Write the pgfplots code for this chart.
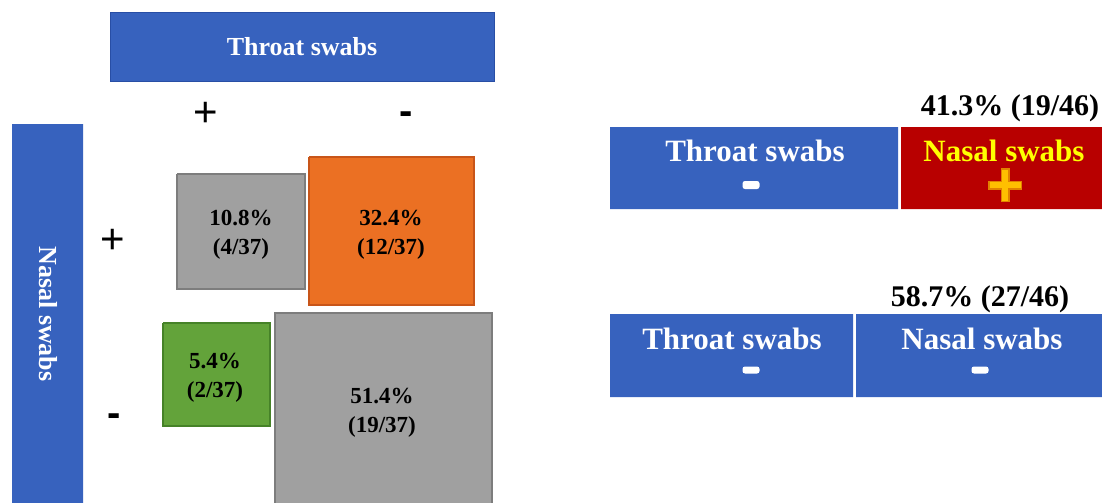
\documentclass[border=0pt]{standalone}
\usepackage{pgfplots}
\pgfplotsset{compat=1.18}
\usepackage{fontspec}
\setmainfont{Liberation Serif}
\newfontfamily\arial{Liberation Sans}
\definecolor{bl}{RGB}{55,98,190}
\definecolor{bldark}{RGB}{40,78,165}
\definecolor{gr}{RGB}{160,160,160}
\definecolor{grdark}{RGB}{125,125,125}
\definecolor{org}{RGB}{235,112,35}
\definecolor{orgdark}{RGB}{200,85,25}
\definecolor{grn}{RGB}{99,163,58}
\definecolor{grndark}{RGB}{70,130,40}
\definecolor{rd}{RGB}{184,0,0}
\definecolor{yl}{RGB}{255,255,0}
\definecolor{plusfill}{RGB}{255,192,0}
\definecolor{plusedge}{RGB}{225,130,0}
\begin{document}
\begin{tikzpicture}
\begin{axis}[
  scale only axis, width=1102bp, height=503bp,
  xmin=0, xmax=1102, ymin=0, ymax=503, y dir=reverse,
  hide axis, clip=true,
]
% header and side labels
\addplot[mark=none, fill=bl, draw=bldark, line width=1bp] coordinates {(110,13) (494,13) (494,82) (110,82) (110,13)};
\addplot[mark=none, fill=bl, draw=none] coordinates {(12,124) (83,124) (83,503) (12,503) (12,124)};
% cells
\addplot[mark=none, fill=gr, draw=grdark, line width=1.5bp] coordinates {(177,174) (305,174) (305,289) (177,289) (177,174)};
\addplot[mark=none, fill=org, draw=orgdark, line width=1.5bp] coordinates {(309,157) (474,157) (474,305) (309,305) (309,157)};
\addplot[mark=none, fill=grn, draw=grndark, line width=1.5bp] coordinates {(163,323) (270,323) (270,426) (163,426) (163,323)};
\addplot[mark=none, fill=gr, draw=none] coordinates {(275,313) (492,313) (492,503) (275,503) (275,313)};
\addplot[mark=none, draw=grdark, line width=1.5bp] coordinates {(275,503) (275,313) (492,313) (492,503)};
% right bars
\addplot[mark=none, fill=bl, draw=none] coordinates {(610,127) (898,127) (898,209) (610,209) (610,127)};
\addplot[mark=none, fill=rd, draw=none] coordinates {(901,127) (1102,127) (1102,209) (901,209) (901,127)};
\addplot[mark=none, fill=bl, draw=none] coordinates {(610,314) (853,314) (853,397) (610,397) (610,314)};
\addplot[mark=none, fill=bl, draw=none] coordinates {(856,314) (1102,314) (1102,397) (856,397) (856,314)};
% yellow plus
\addplot[mark=none, draw=plusedge, line width=9bp] coordinates {(988,185) (1022,185)};
\addplot[mark=none, draw=plusedge, line width=9bp] coordinates {(1005,168) (1005,202)};
\addplot[mark=none, draw=plusfill, line width=5.5bp] coordinates {(989.5,185) (1020.5,185)};
\addplot[mark=none, draw=plusfill, line width=5.5bp] coordinates {(1005,169.5) (1005,200.5)};
% texts
\node[text=white, font=\fontsize{26bp}{30bp}\selectfont\bfseries] at (axis cs:302,47) {Throat swabs};
\node[text=white, font=\fontsize{26bp}{30bp}\selectfont\bfseries, rotate=-90] at (axis cs:48,314) {Nasal swabs};
\node[font=\fontsize{42bp}{44bp}\selectfont\arial] at (axis cs:206,114) {+};
\node[font=\fontsize{40bp}{40bp}\selectfont\arial\bfseries] at (axis cs:406,118) {-};
\node[font=\fontsize{42bp}{44bp}\selectfont\arial] at (axis cs:113,241) {+};
\node[font=\fontsize{40bp}{40bp}\selectfont\arial\bfseries] at (axis cs:114,420) {-};
\node[align=center, font=\fontsize{23bp}{29bp}\selectfont\bfseries] at (axis cs:241,235) {10.8\%\\(4/37)};
\node[align=center, font=\fontsize{23bp}{29bp}\selectfont\bfseries] at (axis cs:391,235) {32.4\%\\(12/37)};
\node[align=center, font=\fontsize{23bp}{29bp}\selectfont\bfseries] at (axis cs:215,378) {5.4\%\\(2/37)};
\node[align=center, font=\fontsize{23bp}{29bp}\selectfont\bfseries] at (axis cs:382,413) {51.4\%\\(19/37)};
\node[font=\fontsize{30bp}{32bp}\selectfont\bfseries] at (axis cs:1010,108) {41.3\% (19/46)};
\node[font=\fontsize{30bp}{32bp}\selectfont\bfseries] at (axis cs:980,299) {58.7\% (27/46)};
\node[text=white, font=\fontsize{31bp}{32bp}\selectfont\bfseries] at (axis cs:755,151) {Throat swabs};
\node[text=yl, font=\fontsize{31bp}{32bp}\selectfont\bfseries] at (axis cs:1004,151) {Nasal swabs};
\node[text=white, font=\fontsize{31bp}{32bp}\selectfont\bfseries] at (axis cs:732,339) {Throat swabs};
\node[text=white, font=\fontsize{31bp}{32bp}\selectfont\bfseries] at (axis cs:982,339) {Nasal swabs};
\node[fill=white, rounded corners=2.5bp, minimum width=17bp, minimum height=8bp, inner sep=0pt] at (axis cs:751,185) {};
\node[fill=white, rounded corners=2.5bp, minimum width=17bp, minimum height=7bp, inner sep=0pt] at (axis cs:751,370) {};
\node[fill=white, rounded corners=2.5bp, minimum width=17bp, minimum height=7bp, inner sep=0pt] at (axis cs:980,370) {};
\end{axis}
\path (current axis.south west) rectangle (current axis.north east);
\end{tikzpicture}
\end{document}
